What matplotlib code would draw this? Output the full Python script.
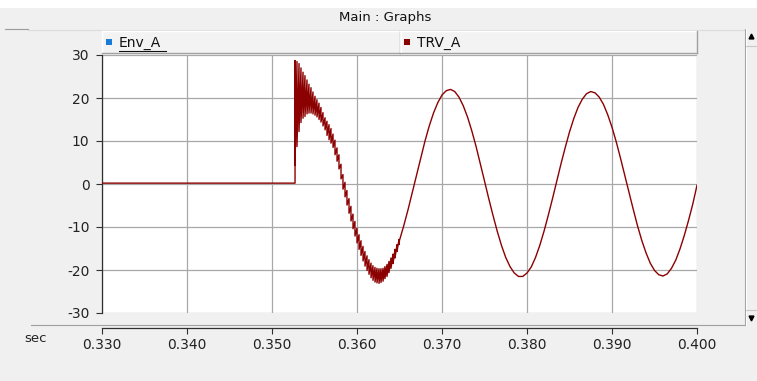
import matplotlib
matplotlib.use('Agg')
import matplotlib.pyplot as plt
import numpy as np
from matplotlib.lines import Line2D
from matplotlib.patches import Rectangle

# ---------------- data ----------------
x_ticks = [0.330, 0.340, 0.350, 0.360, 0.370, 0.380, 0.390, 0.400]
y_ticks = [-30, -20, -10, 0, 10, 20, 30]
legend_names = ["Env_A", "TRV_A"]
legend_colors = ["#1a7ad8", "#8b0000"]

# pre-switching flat part
t_pre = [0.3300, 0.35271]
v_pre = [0.2, 0.2]

# high-frequency oscillating part: upper / lower swing at each stroke
t_osc = [0.35271, 0.35294, 0.35318, 0.35341, 0.35365, 0.35388, 0.35412, 0.35435, 0.35459, 0.35482,
         0.35506, 0.35529, 0.35553, 0.35576, 0.35600, 0.35624, 0.35647, 0.35671, 0.35694, 0.35718,
         0.35741, 0.35765, 0.35788, 0.35812, 0.35835, 0.35859, 0.35882, 0.35906, 0.35929, 0.35953,
         0.35976, 0.36000, 0.36024, 0.36047, 0.36071, 0.36094, 0.36118, 0.36141, 0.36165, 0.36188,
         0.36212, 0.36235, 0.36259, 0.36282, 0.36306, 0.36329, 0.36353, 0.36376, 0.36400, 0.36424,
         0.36447, 0.36471, 0.36494]
hi_osc = [28.7, 28.5, 28.0, 27.0, 26.0, 25.2, 24.2, 23.2, 22.4, 21.4,
          20.4, 19.6, 18.8, 17.8, 16.6, 15.4, 14.6, 13.8, 12.9, 11.6,
          10.2, 8.4, 6.8, 4.6, 2.2, 0.4, -1.5, -3.4, -5.2, -7.0,
          -8.7, -10.3, -11.8, -13.2, -14.5, -15.7, -16.7, -17.6, -18.4, -19.0,
          -19.4, -19.6, -19.7, -19.7, -19.6, -19.2, -18.7, -18.0, -17.2, -16.3,
          -15.2, -14.1, -12.9]
lo_osc = [4.4, 8.7, 12.2, 14.3, 15.3, 15.7, 16.3, 16.5, 16.5, 16.3,
          16.0, 15.6, 15.0, 14.4, 13.5, 12.6, 11.3, 10.3, 9.5, 8.5,
          6.8, 5.3, 3.5, 1.2, -1.2, -3.0, -4.9, -6.8, -8.6, -10.4,
          -12.1, -13.7, -15.2, -16.6, -17.9, -19.1, -20.1, -21.0, -21.8, -22.4,
          -22.8, -23.0, -23.1, -22.9, -22.6, -22.0, -21.5, -20.6, -19.6, -18.5,
          -17.2, -15.7, -14.1]

# smooth power-frequency part
t_smooth = [0.3650, 0.3655, 0.3660, 0.3665, 0.3670, 0.3675, 0.3680, 0.3685, 0.3690, 0.3695,
            0.3700, 0.3705, 0.3710, 0.3715, 0.3720, 0.3725, 0.3730, 0.3735, 0.3740, 0.3745,
            0.3750, 0.3755, 0.3760, 0.3765, 0.3770, 0.3775, 0.3780, 0.3785, 0.3790, 0.3795,
            0.3800, 0.3805, 0.3810, 0.3815, 0.3820, 0.3825, 0.3830, 0.3835, 0.3840, 0.3845,
            0.3850, 0.3855, 0.3860, 0.3865, 0.3870, 0.3875, 0.3880, 0.3885, 0.3890, 0.3895,
            0.3900, 0.3905, 0.3910, 0.3915, 0.3920, 0.3925, 0.3930, 0.3935, 0.3940, 0.3945,
            0.3950, 0.3955, 0.3960, 0.3965, 0.3970, 0.3975, 0.3980, 0.3985, 0.3990, 0.3995,
            0.4000]
v_smooth = [-13.1, -9.7, -6.0, -2.0, 2.0, 6.1, 10.0, 13.5, 16.5, 18.9,
            20.7, 21.7, 22.0, 21.5, 20.2, 18.2, 15.6, 12.4, 8.8, 4.8,
            0.7, -3.4, -7.3, -11.0, -14.3, -17.1, -19.2, -20.7, -21.5, -21.5,
            -20.7, -19.3, -17.1, -14.3, -11.0, -7.3, -3.4, 0.7, 4.7, 8.5,
            12.1, 15.2, 17.8, 19.7, 21.0, 21.5, 21.2, 20.2, 18.5, 16.1,
            13.2, 9.8, 6.0, 2.0, -2.0, -5.9, -9.7, -13.1, -16.0, -18.4,
            -20.1, -21.1, -21.4, -20.9, -19.6, -17.7, -15.1, -12.0, -8.5, -4.7,
            -0.3]

# build the full trace from the arrays (vertical strokes in the oscillating part)
osc_t = np.repeat(np.array(t_osc), 2)
osc_v = np.column_stack([hi_osc, lo_osc]).ravel()
trace_t = np.concatenate([t_pre, osc_t, t_smooth])
trace_v = np.concatenate([v_pre, osc_v, v_smooth])

# ---------------- figure ----------------
W, H = 757, 381
fig = plt.figure(figsize=(W / 100, H / 100), dpi=100)
fig.patch.set_facecolor('#f0f0f0')
plt.rcParams['font.family'] = ['DejaVu Sans']


def fx(px):
    return px / W


def fy(py):
    return 1 - py / H


def hline(y, x0, x1, color, lw=1.0):
    fig.add_artist(Line2D([fx(x0), fx(x1)], [fy(y), fy(y)], transform=fig.transFigure,
                          color=color, lw=lw, zorder=1))


def vline(x, y0, y1, color, lw=1.0):
    fig.add_artist(Line2D([fx(x), fx(x)], [fy(y0), fy(y1)], transform=fig.transFigure,
                          color=color, lw=lw, zorder=1))


# white strip at the very top
fig.add_artist(Rectangle((0, fy(8)), 1, 1 - fy(8), transform=fig.transFigure,
                         facecolor='white', edgecolor='none', zorder=0))

# title
fig.text(fx(385), fy(18), 'Main : Graphs', ha='center', va='center', fontsize=9.5, color='#111111')

# panel frame lines
hline(28.5, 5, 28, '#9a9a9a', 0.8)
hline(29.5, 28, 745, '#dcdcdc', 0.8)
hline(325, 31, 745, '#a0a0a0', 0.8)
vline(745, 29, 325, '#a0a0a0', 0.8)
vline(746, 29, 325, '#ffffff', 0.8)
# scrollbar buttons
hline(46, 746, 757, '#c8c8c8', 0.8)
hline(310, 746, 757, '#c8c8c8', 0.8)
fig.add_artist(Line2D([fx(751)], [fy(36)], transform=fig.transFigure, marker='^',
                      markersize=3.5, color='black', lw=0))
fig.add_artist(Line2D([fx(751)], [fy(318)], transform=fig.transFigure, marker='v',
                      markersize=3.5, color='black', lw=0))

# legend bar
for (x0, x1), name, col in zip([(102, 400), (400, 697)], legend_names, legend_colors):
    fig.add_artist(Rectangle((fx(x0), fy(53)), fx(x1) - fx(x0), fy(31) - fy(53),
                             transform=fig.transFigure, facecolor='#f3f3f3',
                             edgecolor='none', zorder=1))
    hline(31, x0, x1, '#ffffff', 1.0)
    vline(x0 + 0.5, 31, 53, '#ffffff', 1.0)
    hline(53, x0, x1, '#a0a0a0', 1.0)
    vline(x1 - 0.5, 31, 53, '#a0a0a0', 1.0)
    fig.add_artist(Rectangle((fx(x0 + 4), fy(45)), fx(6), fy(39) - fy(45),
                             transform=fig.transFigure, facecolor=col, edgecolor='none', zorder=2))
    fig.text(fx(x0 + 17), fy(43), name, ha='left', va='center', fontsize=10, color='#111111')
# underline of the first legend entry
hline(51, 119, 166, '#111111', 0.8)

# axes
ax = fig.add_axes([fx(102), fy(313), fx(697) - fx(102), fy(55) - fy(313)])
ax.set_facecolor('white')
ax.plot(trace_t, trace_v, color='#8b0000', lw=1.0, zorder=3)

ax.set_xlim(0.330, 0.400)
ax.set_ylim(-30, 30)
ax.set_xticks(x_ticks)
ax.set_xticklabels([f'{v:.3f}' for v in x_ticks])
ax.set_yticks(y_ticks)
ax.set_yticklabels([str(v) for v in y_ticks])
ax.grid(True, color='#a8a8a8', lw=0.9)
ax.set_axisbelow(True)

for s in ['top', 'right']:
    ax.spines[s].set_visible(False)
ax.spines['left'].set_color('#303030')
ax.spines['left'].set_linewidth(0.9)
ax.spines['bottom'].set_position(('outward', 11))
ax.spines['bottom'].set_color('#303030')
ax.spines['bottom'].set_linewidth(0.9)

ax.tick_params(axis='y', direction='out', length=4, width=0.8, pad=5,
               labelsize=10, colors='#303030', labelcolor='#222222')
ax.tick_params(axis='x', direction='out', length=4, width=0.8, pad=3,
               labelsize=10, colors='#303030', labelcolor='#222222')

fig.text(fx(36), fy(339), 'sec', ha='center', va='center', fontsize=9.5, color='#222222')

fig.savefig('out.png', dpi=100, facecolor=fig.get_facecolor())
